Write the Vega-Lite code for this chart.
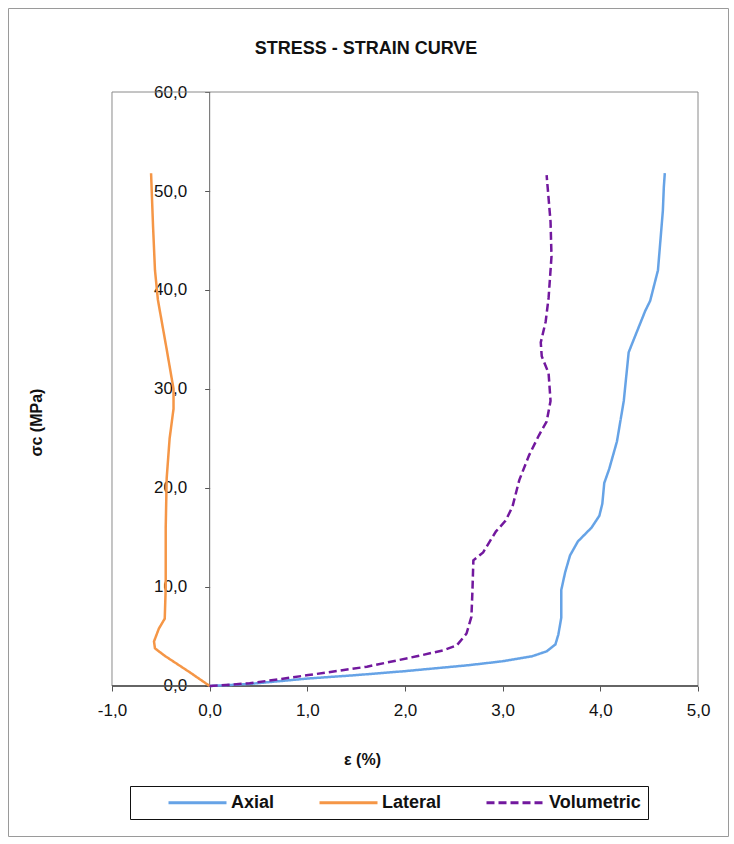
{
  "$schema": "https://vega.github.io/schema/vega-lite/v6.json",
  "width": 720,
  "height": 828,
  "autosize": "none",
  "padding": {"left": 8, "top": 8, "right": 6, "bottom": 8},
  "background": "white",
  "config": {"view": {"stroke": "#9a9a9a", "strokeWidth": 1}, "font": "Liberation Sans"},
  "title": {"text": "STRESS - STRAIN CURVE", "fontSize": 18, "fontWeight": "bold", "font": "Liberation Sans", "color": "#111111", "anchor": "middle", "frame": "group", "offset": -64, "baseline": "alphabetic", "dx": -2},
  "layer": [
    {
      "data": {"values": [{}]},
      "mark": {"type": "rect", "fill": null, "stroke": "#8a8a8a", "strokeWidth": 1},
      "encoding": {
        "x": {"datum": -1, "type": "quantitative"},
        "x2": {"datum": 5},
        "y": {"datum": 0, "type": "quantitative"},
        "y2": {"datum": 60}
      }
    },
    {
      "data": {"values": [{}]},
      "mark": {"type": "rule", "color": "#666666", "strokeWidth": 1},
      "encoding": {
        "x": {"datum": 0, "type": "quantitative"},
        "y": {"datum": 0, "type": "quantitative"},
        "y2": {"datum": 60}
      }
    },
    {
      "data": {"values": [{}]},
      "mark": {"type": "rule", "color": "#444444", "strokeWidth": 1.5},
      "encoding": {
        "x": {"datum": -1, "type": "quantitative"},
        "x2": {"datum": 5},
        "y": {"datum": 0, "type": "quantitative"}
      }
    },
    {
      "data": {"values": [
        {"series": "Axial", "seq": 1, "strain": 0, "stress": 0},
        {"series": "Axial", "seq": 2, "strain": 0.4, "stress": 0.2},
        {"series": "Axial", "seq": 3, "strain": 1.0, "stress": 0.75},
        {"series": "Axial", "seq": 4, "strain": 1.5, "stress": 1.1},
        {"series": "Axial", "seq": 5, "strain": 2.0, "stress": 1.5},
        {"series": "Axial", "seq": 6, "strain": 2.65, "stress": 2.1},
        {"series": "Axial", "seq": 7, "strain": 3.0, "stress": 2.5},
        {"series": "Axial", "seq": 8, "strain": 3.3, "stress": 3.0},
        {"series": "Axial", "seq": 9, "strain": 3.45, "stress": 3.5},
        {"series": "Axial", "seq": 10, "strain": 3.54, "stress": 4.2},
        {"series": "Axial", "seq": 11, "strain": 3.57, "stress": 5.2},
        {"series": "Axial", "seq": 12, "strain": 3.6, "stress": 6.9},
        {"series": "Axial", "seq": 13, "strain": 3.6, "stress": 9.7},
        {"series": "Axial", "seq": 14, "strain": 3.64, "stress": 11.5},
        {"series": "Axial", "seq": 15, "strain": 3.69, "stress": 13.2},
        {"series": "Axial", "seq": 16, "strain": 3.77, "stress": 14.6},
        {"series": "Axial", "seq": 17, "strain": 3.91, "stress": 16.0},
        {"series": "Axial", "seq": 18, "strain": 3.99, "stress": 17.2},
        {"series": "Axial", "seq": 19, "strain": 4.02, "stress": 18.4},
        {"series": "Axial", "seq": 20, "strain": 4.04, "stress": 20.5},
        {"series": "Axial", "seq": 21, "strain": 4.09, "stress": 21.9},
        {"series": "Axial", "seq": 22, "strain": 4.17, "stress": 24.7},
        {"series": "Axial", "seq": 23, "strain": 4.24, "stress": 28.8},
        {"series": "Axial", "seq": 24, "strain": 4.29, "stress": 33.7},
        {"series": "Axial", "seq": 25, "strain": 4.33, "stress": 34.7},
        {"series": "Axial", "seq": 26, "strain": 4.46, "stress": 37.9},
        {"series": "Axial", "seq": 27, "strain": 4.51, "stress": 38.9},
        {"series": "Axial", "seq": 28, "strain": 4.59, "stress": 42.0},
        {"series": "Axial", "seq": 29, "strain": 4.61, "stress": 44.4},
        {"series": "Axial", "seq": 30, "strain": 4.64, "stress": 48.0},
        {"series": "Axial", "seq": 31, "strain": 4.65, "stress": 50.4},
        {"series": "Axial", "seq": 32, "strain": 4.66, "stress": 51.8},
        {"series": "Lateral", "seq": 1, "strain": 0, "stress": 0},
        {"series": "Lateral", "seq": 2, "strain": -0.2, "stress": 1.36},
        {"series": "Lateral", "seq": 3, "strain": -0.46, "stress": 3.05},
        {"series": "Lateral", "seq": 4, "strain": -0.56, "stress": 3.8},
        {"series": "Lateral", "seq": 5, "strain": -0.57, "stress": 4.5},
        {"series": "Lateral", "seq": 6, "strain": -0.52, "stress": 5.8},
        {"series": "Lateral", "seq": 7, "strain": -0.46, "stress": 6.8},
        {"series": "Lateral", "seq": 8, "strain": -0.45, "stress": 10.0},
        {"series": "Lateral", "seq": 9, "strain": -0.45, "stress": 16.0},
        {"series": "Lateral", "seq": 10, "strain": -0.44, "stress": 21.0},
        {"series": "Lateral", "seq": 11, "strain": -0.41, "stress": 25.0},
        {"series": "Lateral", "seq": 12, "strain": -0.37, "stress": 28.0},
        {"series": "Lateral", "seq": 13, "strain": -0.37, "stress": 30.0},
        {"series": "Lateral", "seq": 14, "strain": -0.44, "stress": 34.0},
        {"series": "Lateral", "seq": 15, "strain": -0.53, "stress": 39.0},
        {"series": "Lateral", "seq": 16, "strain": -0.56, "stress": 42.0},
        {"series": "Lateral", "seq": 17, "strain": -0.58, "stress": 46.5},
        {"series": "Lateral", "seq": 18, "strain": -0.6, "stress": 51.8},
        {"series": "Volumetric", "seq": 1, "strain": 0, "stress": 0},
        {"series": "Volumetric", "seq": 2, "strain": 0.41, "stress": 0.27},
        {"series": "Volumetric", "seq": 3, "strain": 1.01, "stress": 1.1},
        {"series": "Volumetric", "seq": 4, "strain": 1.61, "stress": 1.95},
        {"series": "Volumetric", "seq": 5, "strain": 2.12, "stress": 3.0},
        {"series": "Volumetric", "seq": 6, "strain": 2.39, "stress": 3.6},
        {"series": "Volumetric", "seq": 7, "strain": 2.53, "stress": 4.1},
        {"series": "Volumetric", "seq": 8, "strain": 2.63, "stress": 5.3},
        {"series": "Volumetric", "seq": 9, "strain": 2.68, "stress": 7.0},
        {"series": "Volumetric", "seq": 10, "strain": 2.69, "stress": 9.5},
        {"series": "Volumetric", "seq": 11, "strain": 2.7, "stress": 12.7},
        {"series": "Volumetric", "seq": 12, "strain": 2.8, "stress": 13.5},
        {"series": "Volumetric", "seq": 13, "strain": 2.93, "stress": 15.6},
        {"series": "Volumetric", "seq": 14, "strain": 3.03, "stress": 16.7},
        {"series": "Volumetric", "seq": 15, "strain": 3.1, "stress": 18.1},
        {"series": "Volumetric", "seq": 16, "strain": 3.17, "stress": 20.8},
        {"series": "Volumetric", "seq": 17, "strain": 3.27, "stress": 23.3},
        {"series": "Volumetric", "seq": 18, "strain": 3.37, "stress": 25.3},
        {"series": "Volumetric", "seq": 19, "strain": 3.45, "stress": 26.7},
        {"series": "Volumetric", "seq": 20, "strain": 3.49, "stress": 28.8},
        {"series": "Volumetric", "seq": 21, "strain": 3.47, "stress": 31.6},
        {"series": "Volumetric", "seq": 22, "strain": 3.4, "stress": 33.3},
        {"series": "Volumetric", "seq": 23, "strain": 3.39, "stress": 34.7},
        {"series": "Volumetric", "seq": 24, "strain": 3.44, "stress": 36.8},
        {"series": "Volumetric", "seq": 25, "strain": 3.47, "stress": 39.2},
        {"series": "Volumetric", "seq": 26, "strain": 3.5, "stress": 43.4},
        {"series": "Volumetric", "seq": 27, "strain": 3.49, "stress": 46.9},
        {"series": "Volumetric", "seq": 28, "strain": 3.45, "stress": 51.6}
      ]},
      "mark": {"type": "line", "strokeWidth": 2.5},
      "encoding": {
        "x": {
          "field": "strain", "type": "quantitative",
          "scale": {"domain": [-2.0648, 5.307], "nice": false, "zero": false},
          "axis": {
            "title": "ε (%)", "values": [-1, 0, 1, 2, 3, 4, 5], "offset": -150,
            "domain": false, "grid": false, "ticks": true, "tickSize": 5, "tickColor": "#555555",
            "labelFontSize": 17, "labelColor": "#111111", "labelPadding": 11, "labelFont": "Liberation Sans",
            "labelExpr": "replace(replace(format(datum.value, '.1f'), '.', ','), '−', '-')",
            "labelFlush": false, "labelOverlap": false,
            "titleFontSize": 16, "titleFontWeight": "bold", "titleFont": "Liberation Sans", "titleColor": "#111111",
            "titlePadding": 33, "titleX": 354
          }
        },
        "y": {
          "field": "stress", "type": "quantitative",
          "scale": {"domain": [-15.152, 68.485], "nice": false, "zero": false},
          "axis": {
            "title": "σc (MPa)", "values": [0, 10, 20, 30, 40, 50, 60], "offset": -201.67,
            "domain": false, "grid": false, "ticks": true, "tickSize": 5, "tickColor": "#555555",
            "labelFontSize": 17, "labelColor": "#111111", "labelPadding": 18, "labelFont": "Liberation Sans",
            "labelExpr": "replace(replace(format(datum.value, '.1f'), '.', ','), '−', '-')",
            "labelFlush": false, "labelOverlap": false,
            "titleFontSize": 16, "titleFontWeight": "bold", "titleFont": "Liberation Sans", "titleColor": "#111111",
            "titlePadding": 109
          }
        },
        "order": {"field": "seq", "type": "quantitative"},
        "color": {
          "field": "series", "type": "nominal",
          "scale": {"domain": ["Axial", "Lateral", "Volumetric"], "range": ["#66a3e6", "#f59646", "#72189e"]},
          "legend": {
            "title": null, "orient": "none", "legendX": 122, "legendY": 778,
            "direction": "horizontal", "columns": 3, "strokeColor": "#111111", "fillColor": "white",
            "padding": 7, "symbolType": "M-1,0H6.25", "symbolSize": 256, "symbolStrokeWidth": 3,
            "labelFontSize": 18, "labelFont": "Liberation Sans", "labelFontWeight": "bold", "labelColor": "#111111",
            "columnPadding": 13, "labelOffset": 45, "symbolOffset": 30
          }
        },
        "strokeDash": {
          "field": "series", "type": "nominal",
          "scale": {"domain": ["Axial", "Lateral", "Volumetric"], "range": [[1, 0], [1, 0], [8, 4]]}
        }
      }
    }
  ]
}
